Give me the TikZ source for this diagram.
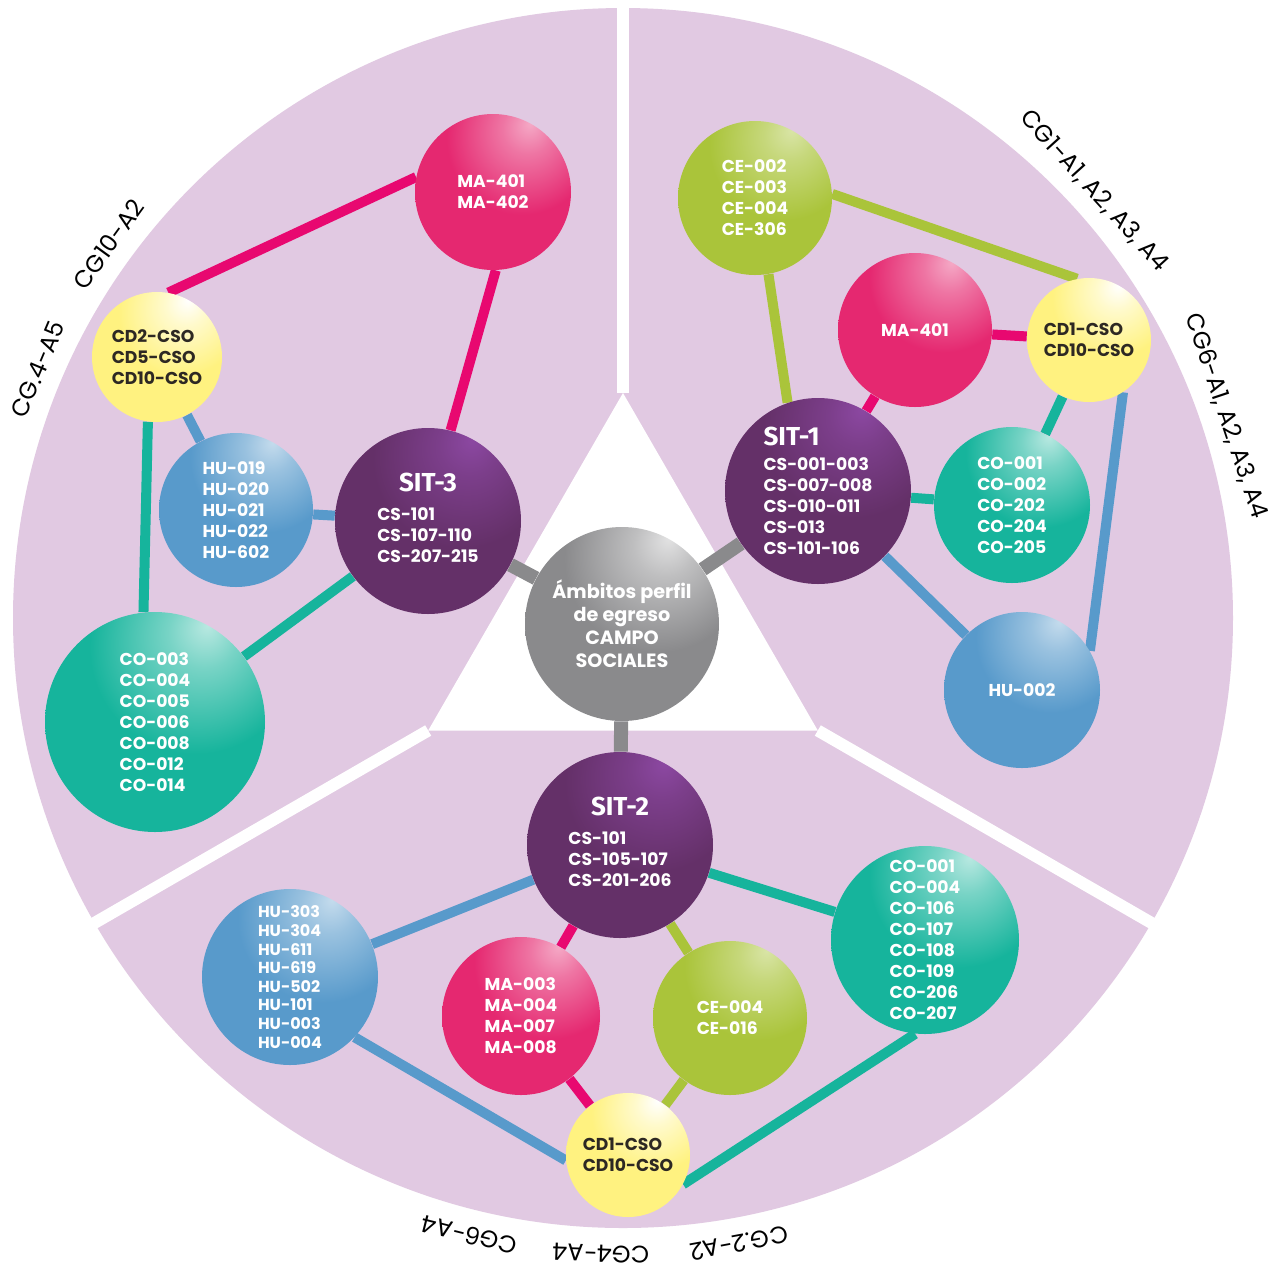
\documentclass[tikz,border=0pt]{standalone}
\usepackage{fontspec}
\setmainfont{Poppins}
\newfontfamily\sitfamily{Fira Sans}
\usetikzlibrary{positioning}

\definecolor{diskC}{RGB}{225,201,226}
\definecolor{maC}{RGB}{229,40,112}
\definecolor{maL}{RGB}{232,8,112}
\definecolor{purC}{RGB}{100,48,104}
\definecolor{purH}{RGB}{140,72,162}
\definecolor{bluC}{RGB}{88,154,203}
\definecolor{teaC}{RGB}{22,180,156}
\definecolor{limC}{RGB}{170,196,58}
\definecolor{yelC}{RGB}{255,242,128}
\definecolor{gryC}{RGB}{138,138,140}
\definecolor{txtC}{RGB}{45,40,35}

\colorlet{sphcol}{white}
\colorlet{sphhi}{white}
\pgfdeclareradialshading[sphcol,sphhi]{sphere}{\pgfqpoint{12bp}{22bp}}{%
  color(0bp)=(sphhi); color(8bp)=(sphhi!60!sphcol);
  color(24bp)=(sphcol); color(100bp)=(sphcol)}

\pgfdeclarelayer{disk}
\pgfdeclarelayer{links}
\pgfsetlayers{disk,links,main}

\newcommand\listfont{\fontsize{8.6}{10.5}\selectfont\bfseries}
\newcommand\sitfont{\sitfamily\fontsize{13}{14}\selectfont\bfseries}

\tikzset{
  sphere/.code 2 args={\colorlet{sphcol}{#1}\colorlet{sphhi}{#2}\tikzset{shade,shading=sphere}},
  bub/.style={circle, inner sep=0pt, text=white, font=\listfont, align=left},
  mabub/.style={bub, sphere={maC}{maC!40!white}, minimum size=#1},
  hubub/.style={bub, sphere={bluC}{bluC!35!white}, minimum size=#1},
  cobub/.style={bub, sphere={teaC}{teaC!30!white}, minimum size=#1},
  cebub/.style={bub, sphere={limC}{limC!45!white}, minimum size=#1},
  cdbub/.style={bub, sphere={yelC}{white}, text=txtC, minimum size=#1},
  sitbub/.style={bub, sphere={purC}{purH}, minimum size=93pt},
  ambbub/.style={circle, inner sep=0pt, sphere={gryC}{gryC!25!white}, minimum size=97pt,
    text=white, align=center, font=\fontsize{9.6}{11.5}\selectfont\bfseries},
  link/.style={line width=5pt},
  hub/.style={line width=7pt, gryC},
  outlbl/.style={font=\fontsize{12}{13}\selectfont, text=black, inner sep=0pt},
}

\begin{document}
\begin{tikzpicture}[x=0.5pt, y=-0.5pt]
\useasboundingbox (0,0) rectangle (1268,1271);

% centre
\node[ambbub] (amb) at (622,624) {\'Ambitos perfil\\de egreso\\CAMPO\\SOCIALES};

% SIT-3 sector
\node[mabub=78pt] (ma3) at (493,192) {MA-401\\MA-402};
\node[cdbub=65pt] (cd3) at (157,357) {CD2-CSO\\CD5-CSO\\CD10-CSO};
\node[hubub=77pt] (hu3) at (236,510) {HU-019\\HU-020\\HU-021\\HU-022\\HU-602};
\node[sitbub, align=center] (sit3) at (428,521)
  {{\sitfont SIT-3}\\[6pt]\begin{tabular}{@{}l@{}}CS-101\\CS-107-110\\CS-207-215\end{tabular}};
\node[cobub=110pt] (co3) at (155,722) {CO-003\\CO-004\\CO-005\\CO-006\\CO-008\\CO-012\\CO-014};

% SIT-1 sector
\node[cebub=77pt] (ce1) at (755,198) {CE-002\\CE-003\\CE-004\\CE-306};
\node[mabub=77pt] (ma1) at (915,330) {MA-401};
\node[cdbub=62pt] (cd1) at (1089,340) {CD1-CSO\\CD10-CSO};
\node[sitbub] (sit1) at (818,491)
  {{\sitfont SIT-1}\\[2pt]CS-001-003\\CS-007-008\\CS-010-011\\CS-013\\CS-101-106};
\node[cobub=78pt] (co1) at (1012,505) {CO-001\\CO-002\\CO-202\\CO-204\\CO-205};
\node[hubub=78pt] (hu1) at (1022,690) {HU-002};

% SIT-2 sector
\node[sitbub, align=center] (sit2) at (620,845)
  {{\sitfont SIT-2}\\[6pt]\begin{tabular}{@{}l@{}}CS-101\\CS-105-107\\CS-201-206\end{tabular}};
\node[hubub=88pt, font=\fontsize{8}{9.3}\selectfont\bfseries] (hu2) at (290,977)
  {HU-303\\HU-304\\HU-611\\HU-619\\HU-502\\HU-101\\HU-003\\HU-004};
\node[mabub=79pt] (ma2) at (521,1016) {MA-003\\MA-004\\MA-007\\MA-008};
\node[cebub=77pt] (ce2) at (730,1018) {CE-004\\CE-016};
\node[cobub=94pt] (co2) at (925,940) {CO-001\\CO-004\\CO-106\\CO-107\\CO-108\\CO-109\\CO-206\\CO-207};
\node[cdbub=62pt] (cd2) at (628,1155) {CD1-CSO\\CD10-CSO};

% outer labels
\foreach \ang/\txt [count=\i] in {144/CG10-A2, 157/CG.4-A5, 42.2/{CG1-A1, A2, A3, A4},
    18.5/{CG6-A1, A2, A3, A4}, 256/CG6-A4, 268/CG4-A4, 280.5/CG.2-A2}
  \node[outlbl, rotate=\ang-90] (cg\i) at ({623+636*cos(\ang)},{618-636*sin(\ang)}) {\txt};

\begin{pgfonlayer}{disk}
  \fill[white] (0,0) rectangle (1268,1271);
  \fill[diskC] (623,618) circle (305pt);
  \fill[white] (623,393) -- (428.2,730.5) -- (817.8,730.5) -- cycle;
  \draw[white, line width=6pt] (623,393) -- (623,-5);
  \draw[white, line width=6pt] (428.2,730.5) -- (84,929);
  \draw[white, line width=6pt] (817.8,730.5) -- (1162,929);
\end{pgfonlayer}

\begin{pgfonlayer}{links}
  \draw[hub] (sit3) -- (amb);
  \draw[hub] (amb) -- (sit1);
  \draw[hub] (amb) -- (sit2);
  % SIT-3
  \draw[link, maL] (cd3.80) -- (ma3.169);
  \draw[link, maL] (ma3.-88) -- (sit3.76);
  \draw[link, bluC] (cd3) -- (hu3);
  \draw[link, bluC] (hu3) -- (sit3);
  \draw[link, teaC] (cd3.-98) -- (co3.96);
  \draw[link, teaC] (sit3) -- (co3);
  % SIT-1
  \draw[link, limC] (ce1.3) -- (cd1.101);
  \draw[link, limC] (ce1.-80) -- (sit1.109);
  \draw[link, maL] (ma1) -- (sit1);
  \draw[link, maL] (ma1) -- (cd1);
  \draw[link, teaC] (cd1) -- (co1);
  \draw[link, teaC] (sit1) -- (co1);
  \draw[link, bluC] (sit1) -- (hu1);
  \draw[link, bluC] (cd1.-57) -- (hu1.30);
  % SIT-2
  \draw[link, bluC] (sit2) -- (hu2);
  \draw[link, bluC] (hu2.-43) -- (cd2.185);
  \draw[link, maL] (sit2) -- (ma2);
  \draw[link, maL] (ma2) -- (cd2);
  \draw[link, limC] (sit2) -- (ce2);
  \draw[link, limC] (ce2) -- (cd2);
  \draw[link, teaC] (sit2) -- (co2);
  \draw[link, teaC] (co2.-96) -- (cd2.-28);
\end{pgfonlayer}
\end{tikzpicture}
\end{document}
